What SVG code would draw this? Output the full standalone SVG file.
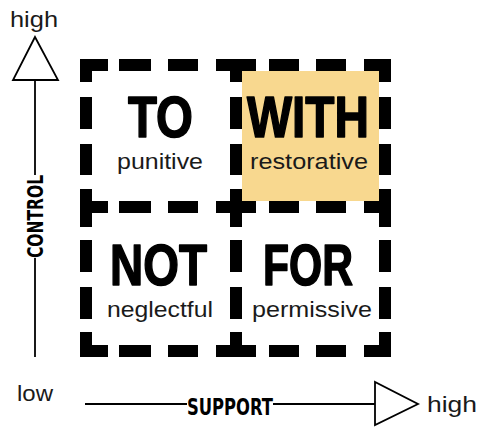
<svg xmlns="http://www.w3.org/2000/svg" width="478" height="427" viewBox="0 0 478 427">
<style>
.big{font-family:"Liberation Sans",Arial,sans-serif;font-weight:bold;font-size:58px;fill:#000;stroke:#000;stroke-width:1.6;stroke-linejoin:round}
.sub{font-family:"Liberation Sans",Arial,sans-serif;font-size:21.5px;fill:#1a1a1a}
.ax{font-family:"Liberation Sans",Arial,sans-serif;font-size:22px;fill:#1a1a1a}
.axb{font-family:"DejaVu Sans",sans-serif;font-weight:bold;font-stretch:condensed;fill:#000}
.ln{stroke:#000;stroke-width:1.8;fill:none}
.tri{fill:#fff;stroke:#000;stroke-width:1.8;stroke-linejoin:miter}
.d{fill:#000}
</style>
<rect width="478" height="427" fill="#fff"/>
<rect id="highlight" x="242" y="71" width="137" height="130" fill="#F8D88F"/>
<g id="frame" class="d">
<g id="row-top">
<rect x="80" y="59" width="28" height="12"/><rect x="119" y="59" width="32" height="12"/><rect x="168" y="59" width="30" height="12"/><rect x="216" y="59" width="40" height="12"/><rect x="269" y="59" width="30" height="12"/><rect x="316" y="59" width="30" height="12"/><rect x="364" y="59" width="27" height="12"/>
</g>
<g id="row-mid">
<rect x="80" y="201" width="28" height="12"/><rect x="119" y="201" width="32" height="12"/><rect x="168" y="201" width="30" height="12"/><rect x="216" y="201" width="40" height="12"/><rect x="269" y="201" width="30" height="12"/><rect x="316" y="201" width="30" height="12"/><rect x="364" y="201" width="27" height="12"/>
</g>
<g id="row-bot">
<rect x="80" y="345" width="28" height="12"/><rect x="119" y="345" width="32" height="12"/><rect x="168" y="345" width="30" height="12"/><rect x="216" y="345" width="40" height="12"/><rect x="269" y="345" width="30" height="12"/><rect x="316" y="345" width="30" height="12"/><rect x="364" y="345" width="27" height="12"/>
</g>
<g id="col-left">
<rect x="80" y="59" width="12" height="23"/><rect x="80" y="97" width="12" height="32"/><rect x="80" y="144" width="12" height="31"/><rect x="80" y="189" width="12" height="38"/><rect x="80" y="240" width="12" height="32"/><rect x="80" y="287" width="12" height="32"/><rect x="80" y="332" width="12" height="25"/>
</g>
<g id="col-mid">
<rect x="230" y="59" width="12" height="23"/><rect x="230" y="97" width="12" height="32"/><rect x="230" y="144" width="12" height="31"/><rect x="230" y="189" width="12" height="38"/><rect x="230" y="240" width="12" height="32"/><rect x="230" y="287" width="12" height="32"/><rect x="230" y="332" width="12" height="25"/>
</g>
<g id="col-right">
<rect x="379" y="59" width="12" height="23"/><rect x="379" y="97" width="12" height="32"/><rect x="379" y="144" width="12" height="31"/><rect x="379" y="189" width="12" height="38"/><rect x="379" y="240" width="12" height="32"/><rect x="379" y="287" width="12" height="32"/><rect x="379" y="332" width="12" height="25"/>
</g>
</g>
<g id="node-to">
<text class="big" x="128" y="137" textLength="65" lengthAdjust="spacingAndGlyphs">TO</text>
<text class="sub" x="117" y="169" textLength="86" lengthAdjust="spacingAndGlyphs">punitive</text>
</g>
<g id="node-with">
<text class="big" x="247" y="137" textLength="122" lengthAdjust="spacingAndGlyphs">WITH</text>
<text class="sub" x="250" y="169" textLength="118" lengthAdjust="spacingAndGlyphs">restorative</text>
</g>
<g id="node-not">
<text class="big" x="110" y="285" textLength="97" lengthAdjust="spacingAndGlyphs">NOT</text>
<text class="sub" x="107" y="317" textLength="106" lengthAdjust="spacingAndGlyphs">neglectful</text>
</g>
<g id="node-for">
<text class="big" x="263" y="285" textLength="90" lengthAdjust="spacingAndGlyphs">FOR</text>
<text class="sub" x="252" y="317" textLength="120" lengthAdjust="spacingAndGlyphs">permissive</text>
</g>
<g id="connectors">
<g id="axis-control">
<line class="ln" x1="35" y1="80" x2="35" y2="175"/>
<line class="ln" x1="35" y1="258" x2="35" y2="357"/>
<polygon class="tri" points="35,37 13,80 58,80"/>
</g>
<g id="axis-support">
<line class="ln" x1="85" y1="404" x2="187" y2="404"/>
<line class="ln" x1="273" y1="404" x2="375" y2="404"/>
<polygon class="tri" points="375,382 375,425 418,404"/>
</g>
</g>
<g id="label-control">
<text class="axb" font-size="22" transform="translate(43,258) rotate(-90)" textLength="83" lengthAdjust="spacingAndGlyphs">CONTROL</text>
</g>
<g id="label-support">
<text class="axb" font-size="23" x="187" y="415" textLength="86" lengthAdjust="spacingAndGlyphs">SUPPORT</text>
</g>
<g id="label-high-top"><text class="ax" x="10" y="27" textLength="48" lengthAdjust="spacingAndGlyphs">high</text></g>
<g id="label-low"><text class="ax" x="17" y="401" textLength="36" lengthAdjust="spacingAndGlyphs">low</text></g>
<g id="label-high-right"><text class="ax" x="427" y="412" textLength="50" lengthAdjust="spacingAndGlyphs">high</text></g>
</svg>
